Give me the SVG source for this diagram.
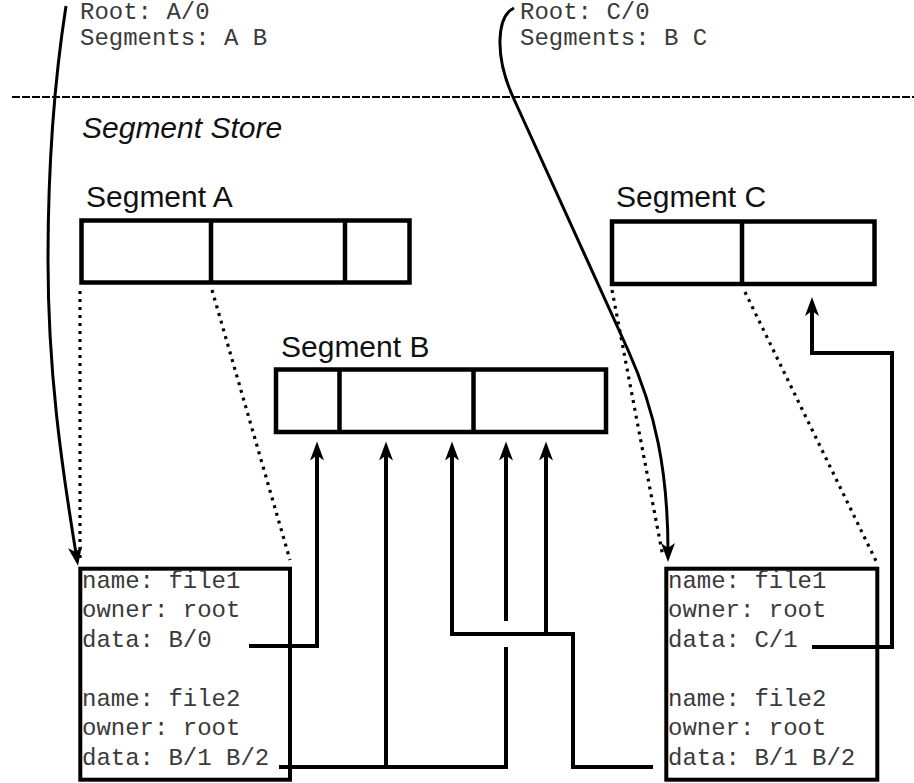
<svg xmlns="http://www.w3.org/2000/svg" width="914" height="783" viewBox="0 0 914 783">
<style>
.mono{font-family:"Liberation Mono","Courier New",monospace;font-size:24px;fill:#3a3a3a}
.lbl{font-family:"Liberation Sans",Arial,sans-serif;font-size:30px;fill:#111}
.seg{fill:none;stroke:#000;stroke-width:4.5}
.box{fill:none;stroke:#000;stroke-width:4}
.dot{fill:none;stroke:#000;stroke-width:3.2;stroke-dasharray:3 5}
.con{fill:none;stroke:#000;stroke-width:4;stroke-linejoin:miter;stroke-linecap:butt}
.cur{fill:none;stroke:#000;stroke-width:3}
</style>
<defs>
<marker id="ah" viewBox="-20 -8 22 16" markerWidth="22" markerHeight="16" refX="-10" refY="0" orient="auto" markerUnits="userSpaceOnUse">
<path d="M0,0 L-19,-7 L-14,0 L-19,7 Z" fill="#000"/>
</marker>
</defs>
<rect width="914" height="783" fill="#fff"/>

<g id="snapshot1">
<text class="mono" x="80" y="19">Root: A/0</text>
<text class="mono" x="80" y="45">Segments: A B</text>
</g>
<g id="snapshot2">
<text class="mono" x="520" y="19">Root: C/0</text>
<text class="mono" x="520" y="45">Segments: B C</text>
</g>

<line x1="12" y1="97" x2="914" y2="97" stroke="#000" stroke-width="2" stroke-dasharray="8 2"/>

<g id="segment-store">
<text class="lbl" x="82" y="138" font-style="italic">Segment Store</text>
</g>

<g id="segmentA">
<text class="lbl" x="86" y="207">Segment A</text>
<rect class="seg" x="81.5" y="220.5" width="328" height="62"/>
<line class="seg" x1="211" y1="220.5" x2="211" y2="282.5"/>
<line class="seg" x1="345" y1="220.5" x2="345" y2="282.5"/>
</g>

<g id="segmentC">
<text class="lbl" x="616" y="207">Segment C</text>
<rect class="seg" x="612" y="221.5" width="262.5" height="62.5"/>
<line class="seg" x1="742" y1="221.5" x2="742" y2="284"/>
</g>

<g id="segmentB">
<text class="lbl" x="281" y="357">Segment B</text>
<rect class="seg" x="276" y="369.5" width="330" height="62.5"/>
<line class="seg" x1="339.5" y1="369.5" x2="339.5" y2="432"/>
<line class="seg" x1="473.5" y1="369.5" x2="473.5" y2="432"/>
</g>

<g id="inodesA">
<rect class="box" x="80.3" y="568.7" width="209.7" height="211"/>
<text class="mono" x="82" y="588">name: file1</text>
<text class="mono" x="82" y="617">owner: root</text>
<text class="mono" x="82" y="647">data: B/0</text>
<text class="mono" x="82" y="706">name: file2</text>
<text class="mono" x="82" y="735">owner: root</text>
<text class="mono" x="82" y="765">data: B/1 B/2</text>
</g>

<g id="inodesC">
<rect class="box" x="666.3" y="568.7" width="211" height="211"/>
<text class="mono" x="668" y="588">name: file1</text>
<text class="mono" x="668" y="617">owner: root</text>
<text class="mono" x="668" y="647">data: C/1</text>
<text class="mono" x="668" y="706">name: file2</text>
<text class="mono" x="668" y="735">owner: root</text>
<text class="mono" x="668" y="765">data: B/1 B/2</text>
</g>

<g id="connectors">
<line class="dot" x1="80" y1="291" x2="80" y2="558"/>
<line class="dot" x1="212" y1="290" x2="290" y2="560"/>
<line class="dot" x1="612" y1="290" x2="663" y2="557"/>
<line class="dot" x1="745" y1="292" x2="876" y2="561"/>

<path class="cur" d="M66,6 C56,70 48,160 48,260 C48,370 61,462 76.4,556" marker-end="url(#ah)"/>
<path class="cur" d="M514,8 C497,16 494,55 513,97 L628,350 C655,410 668,470 668,552" marker-end="url(#ah)"/>

<path class="con" d="M249,646 H317 V451.5" marker-end="url(#ah)"/>
<path class="con" d="M279,767 H506 V647"/>
<path class="con" d="M386,767 V451.5" marker-end="url(#ah)"/>
<path class="con" d="M506,621 V451.5" marker-end="url(#ah)"/>
<path class="con" d="M653,767 H573 V634 H452 V451.5" marker-end="url(#ah)"/>
<path class="con" d="M546,634 V451.5" marker-end="url(#ah)"/>
<path class="con" d="M812,647 H892 V353 H812 V307" marker-end="url(#ah)"/>
</g>
</svg>
